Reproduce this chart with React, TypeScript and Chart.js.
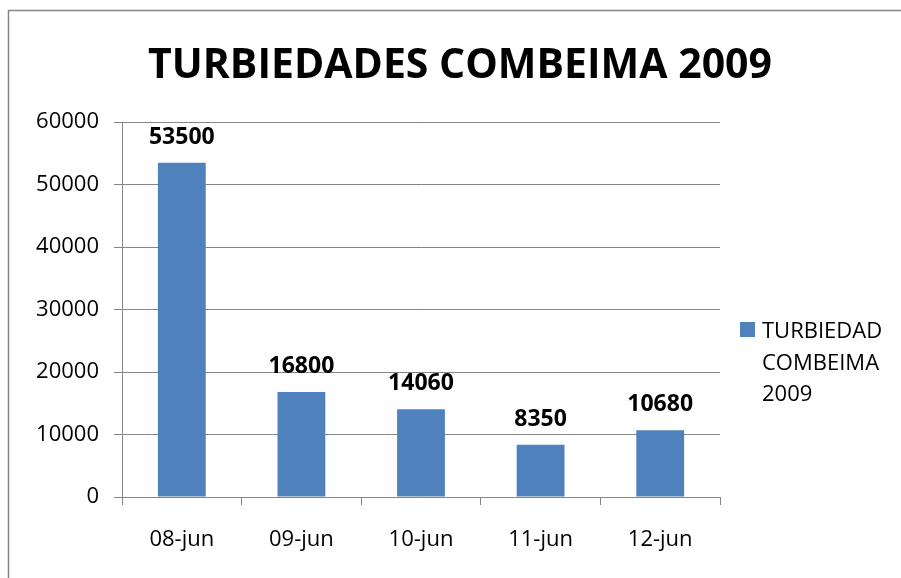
import React, { useEffect, useRef } from "react";
import { Chart, registerables } from "chart.js";

Chart.register(...registerables);

const categories = ["08-jun", "09-jun", "10-jun", "11-jun", "12-jun"];
const seriesName = "TURBIEDAD COMBEIMA 2009";
const legendLines = ["TURBIEDAD", "COMBEIMA", "2009"];
const values = [53500, 16800, 14060, 8350, 10680];
const titleText = "TURBIEDADES COMBEIMA 2009";
const yMax = 60000;
const yStep = 10000;

const FONT = "'Open Sans', sans-serif";
const GRID = "#868686";
const BAR = "#4F81BD";

const decorPlugin = {
  id: "decor",
  afterDraw(chart: any) {
    const ctx = chart.ctx;
    ctx.save();
    // outer frame
    ctx.strokeStyle = GRID;
    ctx.lineWidth = 1.5;
    ctx.beginPath();
    ctx.moveTo(8.5, 600);
    ctx.lineTo(8.5, 10.5);
    ctx.lineTo(920, 10.5);
    ctx.stroke();
    // title
    ctx.fillStyle = "#000";
    ctx.font = `bold 41px ${FONT}`;
    ctx.textAlign = "center";
    ctx.textBaseline = "alphabetic";
    ctx.fillText(titleText, 460, 78);
    // data labels
    const meta = chart.getDatasetMeta(0);
    ctx.font = `bold 23px ${FONT}`;
    meta.data.forEach((bar: any, i: number) => {
      ctx.fillText(String(values[i]), bar.x, bar.y - 19);
    });
    // legend
    ctx.fillStyle = BAR;
    ctx.fillRect(740, 322, 15, 15);
    ctx.fillStyle = "#000";
    ctx.font = `22px ${FONT}`;
    ctx.textAlign = "left";
    legendLines.forEach((l, i) => ctx.fillText(l, 762, 338 + i * 31.5));
    ctx.restore();
  },
};

export default function App() {
  const ref = useRef<HTMLCanvasElement>(null);
  useEffect(() => {
    if (!ref.current) return;
    const chart = new Chart(ref.current, {
      type: "bar",
      data: {
        labels: categories,
        datasets: [
          {
            label: seriesName,
            data: values,
            backgroundColor: BAR,
            barPercentage: 0.4,
            categoryPercentage: 1,
          },
        ],
      },
      options: {
        animation: false,
        responsive: false,
        devicePixelRatio: 1,
        layout: { padding: { top: 122, left: 0, right: 181, bottom: 0 } },
        plugins: {
          legend: { display: false },
          title: { display: false },
          tooltip: { enabled: false },
        },
        scales: {
          x: {
            grid: {
              drawOnChartArea: false,
              drawTicks: true,
              tickLength: 8,
              color: GRID,
              offset: true,
            },
            border: { color: GRID, width: 1 },
            ticks: { color: "#000", font: { family: FONT, size: 22 }, padding: 22, maxRotation: 0 },
            afterFit: (s: any) => {
              s.height = 81;
            },
          },
          y: {
            min: 0,
            max: yMax,
            grid: { color: GRID, tickLength: 8, lineWidth: 1 },
            border: { color: GRID, width: 1 },
            ticks: {
              stepSize: yStep,
              color: "#000",
              font: { family: FONT, size: 22 },
              padding: 15,
              callback: (v: any) => String(v),
            },
            afterFit: (s: any) => {
              s.width = 122;
            },
          },
        },
      },
      plugins: [decorPlugin],
    });
    return () => chart.destroy();
  }, []);
  return (
    <div style={{ position: "fixed", left: 0, top: 0, width: 901, height: 578, background: "#fff" }}>
      <canvas ref={ref} width={901} height={578} style={{ width: 901, height: 578, display: "block" }} />
    </div>
  );
}
